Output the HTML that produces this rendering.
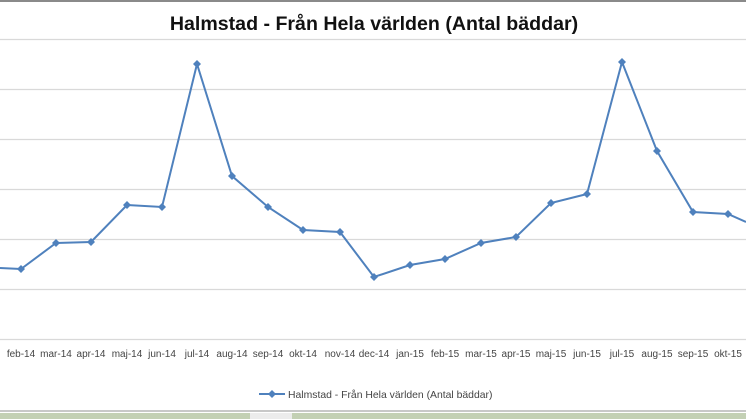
<!DOCTYPE html>
<html><head><meta charset="utf-8"><style>
html,body{margin:0;padding:0;background:#fff;}
body{width:746px;height:419px;overflow:hidden;position:relative;font-family:"Liberation Sans",sans-serif;}
</style></head><body>
<svg width="746" height="419" xmlns="http://www.w3.org/2000/svg" style="position:absolute;left:0;top:0">
<rect x="0" y="0" width="746" height="2" fill="#8a8a8a"/>
<g stroke="#d9d9d9" stroke-width="1.2">
<line x1="0" y1="39.5" x2="746" y2="39.5"/>
<line x1="0" y1="89.5" x2="746" y2="89.5"/>
<line x1="0" y1="139.5" x2="746" y2="139.5"/>
<line x1="0" y1="189.5" x2="746" y2="189.5"/>
<line x1="0" y1="239.5" x2="746" y2="239.5"/>
<line x1="0" y1="289.5" x2="746" y2="289.5"/>
<line x1="0" y1="339.5" x2="746" y2="339.5"/>
</g>
<text x="374" y="30" text-anchor="middle" font-family="Liberation Sans, sans-serif" font-weight="bold" font-size="19.6" fill="#111">Halmstad - Från Hela världen (Antal bäddar)</text>
<polyline fill="none" stroke="#4f81bd" stroke-width="2" points="0,268 21,269 56,243 91,242 127,205 162,207 197,64 232,176 268,207 303,230 340,232 374,277 410,265 445,259 481,243 516,237 551,203 587,194 622,62 657,151 693,212 728,214 746,222"/>
<g fill="#4f81bd">
<path d="M21,265 l4,4 l-4,4 l-4,-4z"/><path d="M56,239 l4,4 l-4,4 l-4,-4z"/><path d="M91,238 l4,4 l-4,4 l-4,-4z"/><path d="M127,201 l4,4 l-4,4 l-4,-4z"/><path d="M162,203 l4,4 l-4,4 l-4,-4z"/><path d="M197,60 l4,4 l-4,4 l-4,-4z"/><path d="M232,172 l4,4 l-4,4 l-4,-4z"/><path d="M268,203 l4,4 l-4,4 l-4,-4z"/><path d="M303,226 l4,4 l-4,4 l-4,-4z"/><path d="M340,228 l4,4 l-4,4 l-4,-4z"/><path d="M374,273 l4,4 l-4,4 l-4,-4z"/><path d="M410,261 l4,4 l-4,4 l-4,-4z"/><path d="M445,255 l4,4 l-4,4 l-4,-4z"/><path d="M481,239 l4,4 l-4,4 l-4,-4z"/><path d="M516,233 l4,4 l-4,4 l-4,-4z"/><path d="M551,199 l4,4 l-4,4 l-4,-4z"/><path d="M587,190 l4,4 l-4,4 l-4,-4z"/><path d="M622,58 l4,4 l-4,4 l-4,-4z"/><path d="M657,147 l4,4 l-4,4 l-4,-4z"/><path d="M693,208 l4,4 l-4,4 l-4,-4z"/><path d="M728,210 l4,4 l-4,4 l-4,-4z"/>
</g>
<g font-family="Liberation Sans, sans-serif" font-size="10" fill="#444" text-anchor="middle">
<text x="21" y="357">feb-14</text><text x="56" y="357">mar-14</text><text x="91" y="357">apr-14</text><text x="127" y="357">maj-14</text><text x="162" y="357">jun-14</text><text x="197" y="357">jul-14</text><text x="232" y="357">aug-14</text><text x="268" y="357">sep-14</text><text x="303" y="357">okt-14</text><text x="340" y="357">nov-14</text><text x="374" y="357">dec-14</text><text x="410" y="357">jan-15</text><text x="445" y="357">feb-15</text><text x="481" y="357">mar-15</text><text x="516" y="357">apr-15</text><text x="551" y="357">maj-15</text><text x="587" y="357">jun-15</text><text x="622" y="357">jul-15</text><text x="657" y="357">aug-15</text><text x="693" y="357">sep-15</text><text x="728" y="357">okt-15</text>
</g>
<line x1="259" y1="394" x2="285" y2="394" stroke="#4f81bd" stroke-width="2"/>
<path d="M272,390 l4,4 l-4,4 l-4,-4z" fill="#4f81bd"/>
<text x="288" y="398" font-family="Liberation Sans, sans-serif" font-size="10.4" fill="#444">Halmstad - Från Hela världen (Antal bäddar)</text>
<rect x="0" y="410" width="746" height="2" fill="#c8c8c8"/>
<rect x="0" y="413" width="746" height="6" fill="#c3d0b4"/>
<rect x="250" y="413" width="42" height="6" fill="#ececec"/>
</svg>
</body></html>
